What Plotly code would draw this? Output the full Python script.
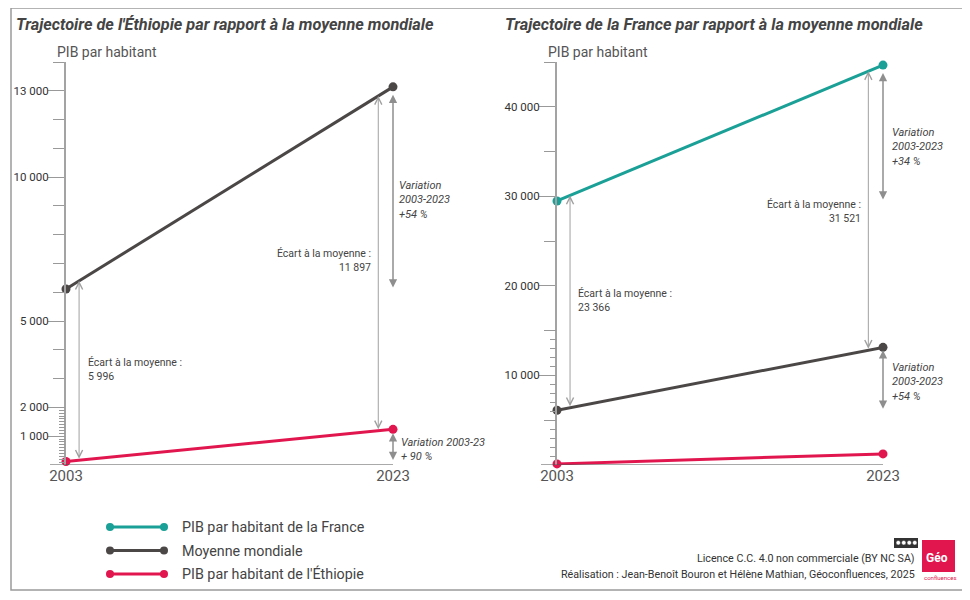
import numpy as np
import plotly.graph_objects as go

# --- données (PIB par habitant, dollars courants) ---
years = [2003, 2023]
pib_france = [29482, 44657]
pib_monde = [6116, 13136]
pib_ethiopie = [120, 1239]

# variations 2003-2023 affichées sur la figure (en %)
var_france = 34
var_monde = 54
var_ethiopie = 90

noms = ["PIB par habitant de la France", "Moyenne mondiale", "PIB par habitant de l'Éthiopie"]

ticks_eth = [1000, 2000, 5000, 10000, 13000]
ticks_fra = [10000, 20000, 30000, 40000]

# --- style ---
W, H = 970, 600
DECAL = 8  # marge du <body> de la page html
VERT = "#1aa096"
GRIS = "#4b4747"
ROUGE = "#e1164f"
POLICE = "Roboto, sans-serif"
couleurs = [VERT, GRIS, ROUGE]


def px(x):
    return (x - DECAL) / W


def py(y):
    return 1 - (y - DECAL) / H


def fmt(v):
    return f"{v:,}".replace(",", " ")


fig = go.Figure()


def courbe(vals, col, xa, ya):
    fig.add_trace(go.Scatter(
        x=years, y=vals, mode="lines+markers", xaxis=xa, yaxis=ya,
        line=dict(color=col, width=3), marker=dict(size=9, color=col),
        cliponaxis=False, hoverinfo="skip", showlegend=False))


# panneau gauche : Éthiopie
courbe(pib_monde, GRIS, "x", "y")
courbe(pib_ethiopie, ROUGE, "x", "y")
# panneau droit : France
courbe(pib_monde, GRIS, "x2", "y2")
courbe(pib_ethiopie, ROUGE, "x2", "y2")
courbe(pib_france, VERT, "x2", "y2")

# axes superposés pour les petites graduations
fig.add_trace(go.Scatter(x=[], y=[], xaxis="x", yaxis="y3", showlegend=False))
fig.add_trace(go.Scatter(x=[], y=[], xaxis="x2", yaxis="y4", showlegend=False))

# légende maison (trait avec un point à chaque bout)
for i, (nom, col) in enumerate(zip(noms, couleurs)):
    fig.add_trace(go.Scatter(
        x=[0, 1], y=[i, i], mode="lines+markers", xaxis="x3", yaxis="y5",
        line=dict(color=col, width=3), marker=dict(size=8, color=col),
        cliponaxis=False, hoverinfo="skip", showlegend=False))

tick_font = dict(family=POLICE, size=11.5, color="#333")
axe_y = dict(showline=True, linecolor="#a3a3a3", linewidth=2, ticks="outside",
             tickcolor="#999", tickwidth=1, ticklen=16, tickfont=tick_font,
             ticklabelstandoff=-3,
             showgrid=False, zeroline=False, fixedrange=True, automargin=False)
axe_x = dict(tickvals=years, ticks="", showline=False, showgrid=False, zeroline=False,
             tickfont=dict(family=POLICE, size=15, color="#555"), range=[2003, 2023],
             automargin=False)
axe_sup = dict(side="left", ticks="outside", ticklen=6, tickcolor="#999",
               showticklabels=False, showline=False, showgrid=False, zeroline=False,
               automargin=False)

fig.update_layout(
    width=W, height=H, margin=dict(l=0, r=0, t=0, b=0, autoexpand=False),
    paper_bgcolor="white", plot_bgcolor="rgba(0,0,0,0)",
    xaxis=dict(domain=[px(66), px(393)], anchor="y", **axe_x),
    xaxis2=dict(domain=[px(557), px(883)], anchor="y2", **axe_x),
    yaxis=dict(domain=[py(465), py(62)], anchor="x", range=[0, 14000],
               tickvals=ticks_eth, ticktext=[fmt(v) for v in ticks_eth],
               minor=dict(tickvals=list(range(1000, 14001, 1000)), ticklen=11,
                          tickcolor="#999", ticks="outside"), **axe_y),
    yaxis2=dict(domain=[py(465), py(62)], anchor="x2", range=[0, 45000],
                tickvals=ticks_fra, ticktext=[fmt(v) for v in ticks_fra],
                minor=dict(tickvals=list(range(5000, 45001, 5000)), ticklen=11,
                           tickcolor="#999", ticks="outside"), **axe_y),
    yaxis3=dict(overlaying="y", anchor="x", range=[0, 14000],
                tickvals=list(range(100, 2001, 100)), **axe_sup),
    yaxis4=dict(overlaying="y2", anchor="x2", range=[0, 45000],
                tickvals=list(range(1000, 15001, 1000)), **axe_sup),
    xaxis3=dict(domain=[px(110), px(164)], range=[0, 1], visible=False, anchor="y5",
                automargin=False),
    yaxis5=dict(domain=[py(584), py(517)], range=[2.43, -0.43], visible=False, anchor="x3",
                automargin=False),
)

shapes = [
    # cadre
    dict(type="rect", xref="paper", yref="paper", x0=px(11), x1=px(965), y0=py(590), y1=py(8),
         line=dict(color="#9a9a9a", width=1.5)),
    # lignes de base
    dict(type="line", xref="x domain", yref="y", x0=-16 / 327, x1=1, y0=0, y1=0,
         line=dict(color="#555", width=1.2)),
    dict(type="line", xref="x2 domain", yref="y2", x0=-16 / 326, x1=1, y0=0, y1=0,
         line=dict(color="#555", width=1.2)),
    # logo cc
    dict(type="rect", xref="paper", yref="paper", x0=px(894), x1=px(918), y0=py(548), y1=py(538),
         fillcolor="#333", line=dict(width=0)),
    # logo géoconfluences
    dict(type="rect", xref="paper", yref="paper", x0=px(922), x1=px(955), y0=py(572), y1=py(540),
         fillcolor=ROUGE, line=dict(width=0)),
]
for k in range(4):
    shapes.append(dict(type="circle", xref="paper", yref="paper",
                       x0=px(896 + 5.5 * k), x1=px(900.5 + 5.5 * k), y0=py(545), y1=py(540.5),
                       fillcolor="white", line=dict(color="#333", width=0.5)))
fig.update_layout(shapes=shapes)

ann = []


def texte(x, y, t, anchor="left", size=10.5, italic=False, color="#444", bold=False):
    ann.append(dict(x=px(x), y=py(y), xref="paper", yref="paper", text=t, showarrow=False,
                    xanchor=anchor, yanchor="middle", align=anchor,
                    font=dict(family=POLICE, size=size, color=color,
                              style="italic" if italic else "normal",
                              weight="bold" if bold else "normal")))


def fleche(x, y_tete, y_queue, xr, yr, variation=False, standoff=0):
    if variation:
        style = dict(arrowhead=2, startarrowhead=2, arrowsize=1.1, startarrowsize=1.1,
                     arrowwidth=1.5, arrowcolor="#8e8e8e")
    else:
        style = dict(arrowhead=5, startarrowhead=5, arrowsize=1.4, startarrowsize=1.4,
                     arrowwidth=1, arrowcolor="#a0a0a0")
    ann.append(dict(x=x, y=y_tete, ax=x, ay=y_queue, xref=xr, yref=yr, axref=xr, ayref=yr,
                    text="", showarrow=True, arrowside="end+start", standoff=standoff, **style))


# flèches d'écart, posées sur les courbes
xe0, xe1 = 2003.8, 2022.1
fleche(xe0, np.interp(xe0, years, pib_monde), np.interp(xe0, years, pib_ethiopie), "x", "y")
fleche(xe1, np.interp(xe1, years, pib_monde), np.interp(xe1, years, pib_ethiopie), "x", "y")
fleche(xe0, np.interp(xe0, years, pib_france), np.interp(xe0, years, pib_monde), "x2", "y2")
fleche(xe1, np.interp(xe1, years, pib_france), np.interp(xe1, years, pib_monde), "x2", "y2")
# flèches de variation
fleche(2023, pib_monde[1], pib_monde[0], "x", "y", True, 8)
fleche(2023, pib_ethiopie[1], pib_ethiopie[0], "x", "y", True, 4)
fleche(2023, pib_france[1], pib_france[0], "x2", "y2", True, 8)
fleche(2023, pib_monde[1], pib_monde[0], "x2", "y2", True, 3)

# titres
texte(14, 25, "Trajectoire de l'Éthiopie par rapport à la moyenne mondiale", size=16.3, italic=True, bold=True)
texte(503, 25, "Trajectoire de la France par rapport à la moyenne mondiale", size=16.3, italic=True, bold=True)
texte(55, 52, "PIB par habitant", size=14, color="#555")
texte(546, 52, "PIB par habitant", size=14, color="#555")

# étiquettes
ecart_eth = [m - e for m, e in zip(pib_monde, pib_ethiopie)]
ecart_fra = [f - m for f, m in zip(pib_france, pib_monde)]
texte(86, 369, "Écart à la moyenne :<br>" + fmt(ecart_eth[0]))
texte(373, 261, "Écart à la moyenne :<br>" + fmt(ecart_eth[1]), anchor="right")
texte(397, 200, f"Variation<br>2003-2023<br>+{var_monde} %", italic=True, size=11)
texte(399, 449, f"Variation 2003-23<br>+ {var_ethiopie} %", italic=True, size=11)
texte(890, 147, f"Variation<br>2003-2023<br>+{var_france} %", italic=True, size=11)
texte(863, 211, "Écart à la moyenne :<br>" + fmt(ecart_fra[1]), anchor="right")
texte(576, 300, "Écart à la moyenne :<br>" + fmt(ecart_fra[0]))
texte(890, 382, f"Variation<br>2003-2023<br>+{var_monde} %", italic=True, size=11)

# légende
for i, nom in enumerate(noms):
    ann.append(dict(x=px(180), y=i, xref="paper", yref="y5", text=nom, showarrow=False,
                    xanchor="left", yanchor="middle", font=dict(family=POLICE, size=14.3, color="#444")))

# crédits
texte(917, 558, "Licence C.C. 4.0 non commerciale (BY NC SA)", anchor="right", size=10.7, color="#333")
texte(917, 574, "Réalisation : Jean-Benoît Bouron et Hélène Mathian, Géoconfluences, 2025",
      anchor="right", size=10.7, color="#333")
texte(924, 558, "Géo", size=12, color="white", bold=True)
texte(922, 577, "confluences", size=6, color=ROUGE)

fig.update_layout(annotations=ann)
fig.write_html("out.html")
